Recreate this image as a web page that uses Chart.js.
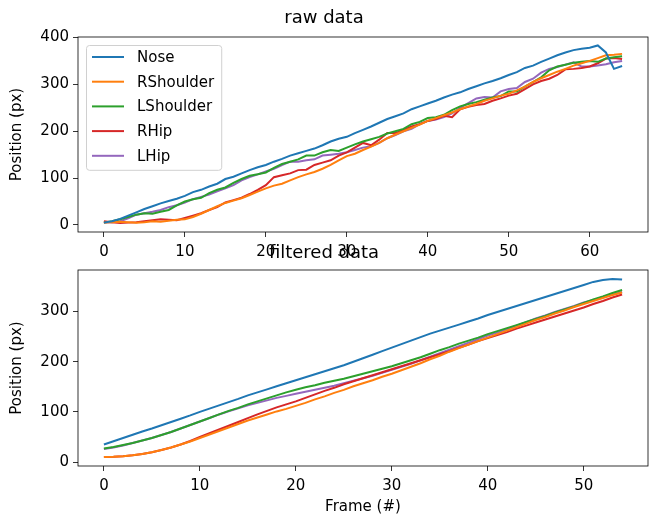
<!DOCTYPE html>
<html>
<head>
<meta charset="utf-8">
<script src="https://cdn.jsdelivr.net/npm/chart.js@4/dist/chart.umd.min.js"></script>
<style>
  body { margin: 0; background: #fff; }
  #wrap { position: relative; width: 650px; height: 523px; }
  canvas { position: absolute; left: 0; }
  #rawChart { top: 0; }
  #filtChart { top: 236px; }
</style>
</head>
<body>
<div id="wrap">
  <canvas id="rawChart" width="650" height="270"></canvas>
  <canvas id="filtChart" width="650" height="287"></canvas>
</div>
<script>
// --- data ---
const seriesNames = ['Nose', 'RShoulder', 'LShoulder', 'RHip', 'LHip'];
const seriesColors = ['#1f77b4', '#ff7f0e', '#2ca02c', '#d62728', '#9467bd'];

const noseRaw = [5,8,13,20,27,34,40,46,51,56, 62,70,75,82,88,98,103,110,117,123, 128,135,141,148,153,158,163,170,178,184,
  188,196,203,210,218,226,232,238,247,253, 259,265,272,278,283,290,296,302,307,313, 320,326,335,340,348,355,362,368,373,376,
  378,383,368,333,339];
const rShoulderRaw = [5,6,7,6,5,6,8,7,9,11, 12,17,24,32,40,47,52,57,64,71, 78,84,88,95,102,108,113,120,128,138,
  147,152,160,167,175,185,193,200,207,214, 222,228,234,240,247,253,258,265,270,276, 280,287,295,305,313,320,327,333,340,345,
  350,356,362,363,365];
const lShoulderRaw = [5,8,12,17,22,25,24,28,32,42, 50,55,58,68,75,80,90,98,105,108, 112,122,130,135,140,148,148,155,160,158,
  165,172,178,183,188,195,200,205,215,220, 228,230,235,245,253,258,262,267,272,275, 285,285,295,305,315,330,338,342,346,348,
  350,348,355,358,360];
const rHipRaw = [8,6,4,5,6,8,10,12,11,10, 15,20,25,32,38,48,53,58,66,75, 85,102,106,110,117,118,128,133,138,148,
  155,165,175,170,182,196,196,203,210,215, 222,226,233,230,247,252,256,258,265,270, 276,280,290,300,307,312,320,332,333,335,
  338,345,355,356,354];
const lHipRaw = [5,6,8,14,22,25,28,32,38,42, 48,55,60,65,72,78,85,95,102,108, 114,120,128,135,135,138,140,148,150,152,
  155,160,165,168,175,185,192,200,205,215, 222,225,230,238,250,260,270,273,272,285, 290,292,305,312,325,333,337,342,347,338,
  338,340,343,347,350];

const noseFilt = [35,41.5,48,54.5,61,67,73.5,80,86.5,93, 100,106.5,113,119.5,126,133,139,145,151,157, 163,169,175,181,187,193,200,207,214,221,
  228,235,242,249,256,262,268,274,280,286, 293,299,305,311,317,323,329,335,341,347, 353,359,363,365,364];
const rShoulderFilt = [10,10.5,11.5,13.5,16,19.5,24,29,35,41, 48,55,62,69,76,83,89,95,101,106, 112,118,125,131,138,144,151,157,163,170,
  176,183,190,197,205,212,220,227,234,241, 248,255,262,269,276,283,289,296,302,309, 315,321,327,333,338];
const lShoulderFilt = [27,30,34,38,43,48,54,60,67,74, 81,88,95,102,108,115,121,127,133,139, 144,149,153,158,162,166,171,176,181,186,
  191,197,203,209,216,223,229,236,242,248, 255,261,267,273,279,285,291,298,304,310, 317,324,330,337,343];
const rHipFilt = [10,10.5,11.5,13.5,16,19.5,24,29,35,42, 50,57.5,65,72.5,80,87.5,95,102,109,115, 121,128,135,142,148,155,161,167,173,179,
  185,191,197,203,209,215,221,228,234,241, 247,253,259,266,272,278,284,290,296,302, 308,315,321,328,334];
const lHipFilt = [26,29,33,38,43,48,54,60,67,74, 81,88,95,101,107,113,118,123,128,132, 136,140,144,148,152,157,162,167,172,178,
  184,190,196,203,210,217,224,231,238,245, 252,258,265,272,279,286,292,299,305,311, 318,323,329,334,339];

const rawXTicks = [0, 10, 20, 30, 40, 50, 60];
const rawYTicks = [0, 100, 200, 300, 400];
const filtXTicks = [0, 10, 20, 30, 40, 50];
const filtYTicks = [0, 100, 200, 300];

const FONT = '"DejaVu Sans", sans-serif';

function toPoints(arr) {
  return arr.map((v, i) => ({ x: i, y: v }));
}

function makeDatasets(list) {
  return list.map((arr, i) => ({
    label: seriesNames[i],
    data: toPoints(arr),
    borderColor: seriesColors[i],
    backgroundColor: seriesColors[i],
    borderWidth: 2,
    pointRadius: 0,
    tension: 0,
    fill: false
  }));
}

// box round the plot area, like matplotlib spines
const frameBox = {
  id: 'frameBox',
  afterDraw(chart) {
    const a = chart.chartArea;
    const ctx = chart.ctx;
    ctx.save();
    ctx.strokeStyle = '#000';
    ctx.lineWidth = 0.8;
    ctx.strokeRect(a.left, a.top, a.right - a.left, a.bottom - a.top);
    ctx.restore();
  }
};

// legend drawn inside the upper left of the plot
const innerLegend = {
  id: 'innerLegend',
  afterDatasetsDraw(chart, args, opts) {
    if (!opts.show) return;
    const a = chart.chartArea;
    const ctx = chart.ctx;
    const sets = chart.data.datasets;
    ctx.save();
    ctx.font = '15px ' + FONT;
    let maxW = 0;
    sets.forEach(d => { maxW = Math.max(maxW, ctx.measureText(d.label).width); });
    const x0 = a.left + 8, y0 = a.top + 8;
    const rowH = 24.7;
    const w = 51 + maxW + 7;
    const h = 12 + rowH * (sets.length - 1) + 14;
    ctx.fillStyle = 'rgba(255,255,255,0.8)';
    ctx.strokeStyle = '#d0d0d0';
    ctx.lineWidth = 1;
    ctx.beginPath();
    ctx.roundRect(x0 + 0.5, y0 + 0.5, w, h, 3);
    ctx.fill();
    ctx.stroke();
    ctx.textBaseline = 'middle';
    ctx.textAlign = 'left';
    sets.forEach((d, i) => {
      const cy = y0 + 12 + i * rowH;
      ctx.strokeStyle = d.borderColor;
      ctx.lineWidth = 2;
      ctx.beginPath();
      ctx.moveTo(x0 + 6, cy);
      ctx.lineTo(x0 + 38, cy);
      ctx.stroke();
      ctx.fillStyle = '#000';
      ctx.fillText(d.label, x0 + 51, cy + 1);
    });
    ctx.restore();
  }
};

function makeChart(id, cfg) {
  const tickFont = { family: FONT, size: 15 };
  return new Chart(document.getElementById(id), {
    type: 'line',
    data: { datasets: makeDatasets(cfg.series) },
    options: {
      responsive: false,
      animation: false,
      layout: { padding: { left: 0, right: 2, top: 0, bottom: 0 } },
      plugins: {
        legend: { display: false },
        tooltip: { enabled: false },
        title: {
          display: true,
          text: cfg.title,
          color: '#000',
          font: { family: FONT, size: 18, weight: 'normal', lineHeight: 1.2 },
          padding: cfg.titlePad
        },
        innerLegend: { show: cfg.legend }
      },
      scales: {
        x: {
          type: 'linear',
          min: cfg.xMin,
          max: cfg.xMax,
          afterBuildTicks: s => { s.ticks = cfg.xTicks.map(v => ({ value: v })); },
          afterFit: s => { s.height = cfg.xHeight; },
          grid: { drawOnChartArea: false, drawTicks: true, tickLength: 5, tickColor: '#000', tickWidth: 0.8 },
          border: { display: false },
          ticks: { color: '#000', font: tickFont, padding: 6, maxRotation: 0, autoSkip: false },
          title: {
            display: !!cfg.xTitle,
            text: cfg.xTitle || '',
            color: '#000',
            font: { family: FONT, size: 15, lineHeight: 1.2 },
            padding: { top: 0, bottom: 7 }
          }
        },
        y: {
          type: 'linear',
          min: cfg.yMin,
          max: cfg.yMax,
          afterBuildTicks: s => { s.ticks = cfg.yTicks.map(v => ({ value: v })); },
          afterFit: s => { s.width = 78; },
          grid: { drawOnChartArea: false, drawTicks: true, tickLength: 5, tickColor: '#000', tickWidth: 0.8 },
          border: { display: false },
          ticks: { color: '#000', font: tickFont, padding: 4, autoSkip: false },
          title: {
            display: true,
            text: 'Position (px)',
            color: '#000',
            font: { family: FONT, size: 15, lineHeight: 1.2 },
            padding: { top: 8, bottom: 0 }
          }
        }
      }
    },
    plugins: [frameBox, innerLegend]
  });
}

makeChart('rawChart', {
  series: [noseRaw, rShoulderRaw, lShoulderRaw, rHipRaw, lHipRaw],
  title: 'raw data',
  titlePad: { top: 8, bottom: 7.4 },
  legend: true,
  xMin: -3.2, xMax: 67.2, xTicks: rawXTicks, xHeight: 38,
  yMin: -15, yMax: 401, yTicks: rawYTicks
});

makeChart('filtChart', {
  series: [noseFilt, rShoulderFilt, lShoulderFilt, rHipFilt, lHipFilt],
  title: 'filtered data',
  titlePad: { top: 7, bottom: 5.4 },
  legend: false,
  xMin: -2.7, xMax: 56.7, xTicks: filtXTicks, xHeight: 57,
  xTitle: 'Frame (#)',
  yMin: -7.75, yMax: 382.75, yTicks: filtYTicks
});
</script>
</body>
</html>
